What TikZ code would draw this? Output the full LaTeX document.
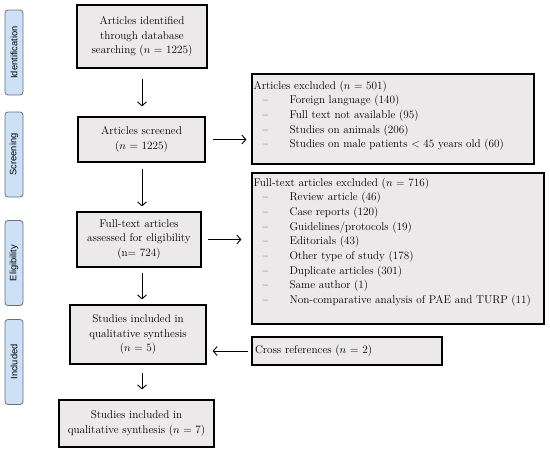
\documentclass[tikz,border=0pt]{standalone}
\usepackage{fontspec}
\setsansfont{Liberation Sans}
\usetikzlibrary{arrows.meta}
\definecolor{boxgray}{RGB}{236,233,234}
\definecolor{sideblue}{RGB}{204,224,246}
\definecolor{sideline}{RGB}{105,110,120}
\newcommand{\mainsz}{\fontsize{11.2}{14.7}\selectfont}
\newcommand{\exline}[1]{\hspace*{9pt}\makebox[27pt][l]{--}#1}
\begin{document}
\begin{tikzpicture}[x=1pt,y=-1pt,
    box/.style={draw=black, line width=1.2pt, fill=boxgray, align=center, inner sep=2pt, font=\mainsz},
    side/.style={draw=sideline, line width=0.8pt, fill=sideblue, rounded corners=3pt, rotate=90,
                 minimum width=85pt, minimum height=18pt, inner sep=0pt, font=\sffamily\fontsize{9.3}{10}\selectfont},
    listtxt/.style={anchor=north west, align=left, inner sep=0pt, font=\mainsz},
    arr/.style={-{Straight Barb[length=4pt,width=9pt]}, line width=0.9pt}]
    \useasboundingbox (0,0) rectangle (550,450);
    \node[side] (sideid) at (14,52.5) {Identification};
    \node[side] (sidescr) at (14,154.5) {Screening};
    \node[side] (sideel) at (14,263) {Eligibility};
    \node[side] (sideinc) at (14,362) {Included};
    \node[box, minimum width=130pt, minimum height=63pt] (ident) at (142,36.5) {Articles identified\\through database\\searching ($n$ = 1225)};
    \node[box, minimum width=127pt, minimum height=45pt] (screen) at (141.5,139.5) {Articles screened\\($n$ = 1225)};
    \node[box, minimum width=124pt, minimum height=55pt] (full) at (139,239.5) {Full-text articles\\assessed for eligibility\\(n= 724)};
    \node[box, minimum width=136pt, minimum height=59pt] (incl) at (138,334.5) {Studies included in\\qualitative synthesis\\($n$ = 5)};
    \node[box, minimum width=155pt, minimum height=47pt] (final) at (136.5,423.5) {Studies included in\\qualitative synthesis ($n$ = 7)};
    \node[box, minimum width=282pt, minimum height=90pt] (excl) at (393,119) {};
    \node[listtxt] (excltxt) at ([xshift=2pt,yshift=-7pt]excl.north west) {Articles excluded ($n$ = 501)\\
        \exline{Foreign language (140)}\\
        \exline{Full text not available (95)}\\
        \exline{Studies on animals (206)}\\
        \exline{Studies on male patients < 45 years old (60)}};
    \node[box, minimum width=292pt, minimum height=151pt] (fullex) at (398,248.5) {};
    \node[listtxt] (fullextxt) at ([xshift=2pt,yshift=-5pt]fullex.north west) {Full-text articles excluded ($n$ = 716)\\
        \exline{Review article (46)}\\
        \exline{Case reports (120)}\\
        \exline{Guidelines/protocols (19)}\\
        \exline{Editorials (43)}\\
        \exline{Other type of study (178)}\\
        \exline{Duplicate articles (301)}\\
        \exline{Same author (1)}\\
        \exline{Non-comparative analysis of PAE and TURP (11)}};
    \node[box, minimum width=190pt, minimum height=28pt, text width=184pt, align=left] (cross) at (347,351) {Cross references ($n$ = 2)};
    \draw[arr, shorten <=10pt, shorten >=10pt] (ident.south) -- (ident.south |- screen.north);
    \draw[arr, shorten <=6pt, shorten >=5pt] (ident.south |- screen.south) -- (ident.south |- full.north);
    \draw[arr, shorten <=5pt, shorten >=5pt] (ident.south |- full.south) -- (ident.south |- incl.north);
    \draw[arr, shorten <=8pt, shorten >=10pt] (ident.south |- incl.south) -- (ident.south |- final.north);
    \draw[arr, shorten <=7pt, shorten >=5pt] (screen.east) -- (screen.east -| excl.west);
    \draw[arr, shorten <=6pt, shorten >=10pt] (full.east) -- (full.east -| fullex.west);
    \draw[arr, shorten <=3pt, shorten >=6pt] (cross.west) -- (cross.west -| incl.east);
\end{tikzpicture}
\end{document}
